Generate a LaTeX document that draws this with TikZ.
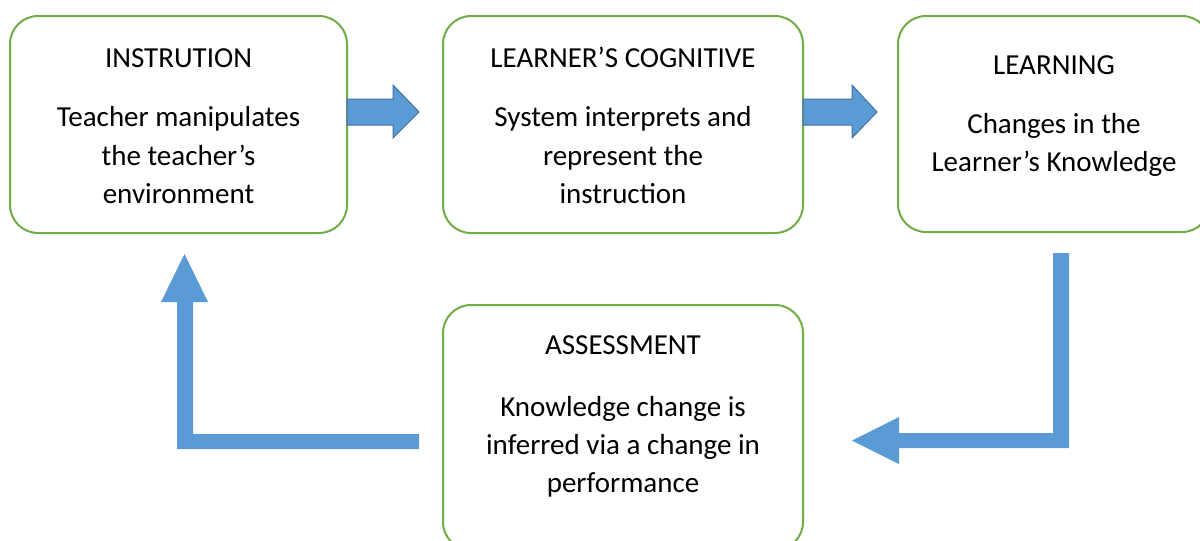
\documentclass[tikz,border=0pt]{standalone}
\usepackage{fontspec}
\setmainfont{Carlito}
\definecolor{boxgreen}{HTML}{70AD47}
\definecolor{arrowblue}{HTML}{5B9BD5}
\definecolor{arrowedge}{HTML}{41719C}
\begin{document}
\begin{tikzpicture}[x=1pt,y=-1pt,
  box/.style={draw=boxgreen,line width=2pt,rounded corners=28pt,fill=white},
  txt/.style={anchor=base,inner sep=0pt,font=\fontsize{29}{34}\selectfont},
  blockarrow/.style={fill=arrowblue,draw=arrowedge,line width=1pt,line join=miter},
  flatarrow/.style={fill=arrowblue,draw=none}]
\useasboundingbox (0,0) rectangle (1200,541);
\clip (0,0) rectangle (1200,541);
% boxes
\draw[box] (10,16) rectangle (347,233);
\draw[box] (443,16) rectangle (803,233);
\draw[box] (898,16) rectangle (1210,232);
\draw[box] (443,305) rectangle (803,550);
% box 1 text
\node[txt] (t1a) at (178.5,67) {INSTRUTION};
\node[txt] (t1b) at (178.5,126) {Teacher manipulates};
\node[txt] (t1c) at (178.5,165) {the teacher’s};
\node[txt] (t1d) at (178.5,203) {environment};
% box 2 text
\node[txt] (t2a) at (623,67) {LEARNER’S COGNITIVE};
\node[txt] (t2b) at (623,126) {System interprets and};
\node[txt] (t2c) at (623,165) {represent the};
\node[txt] (t2d) at (623,203) {instruction};
% box 3 text
\node[txt] (t3a) at (1054,74) {LEARNING};
\node[txt] (t3b) at (1054,133) {Changes in the};
\node[txt] (t3c) at (1054,171) {Learner’s Knowledge};
% box 4 text
\node[txt] (t4a) at (623,354) {ASSESSMENT};
\node[txt] (t4b) at (623,416) {Knowledge change is};
\node[txt] (t4c) at (623,454) {inferred via a change in};
\node[txt] (t4d) at (623,492) {performance};
% block arrows
\draw[blockarrow] (347,99) -- (393,99) -- (393,85) -- (419,112) -- (393,138) -- (393,125) -- (347,125) -- cycle;
\draw[blockarrow] (803,99) -- (852,99) -- (852,85) -- (877,112) -- (852,138) -- (852,125) -- (803,125) -- cycle;
% L arrows
\fill[flatarrow] (1053,253) -- (1069,253) -- (1069,448) -- (899,448) -- (899,464) -- (852,440.5) -- (899,417) -- (899,433) -- (1053,433) -- cycle;
\fill[flatarrow] (419,434) -- (419,449) -- (177,449) -- (177,302) -- (161,302) -- (184.5,254) -- (208,302) -- (193,302) -- (193,434) -- cycle;
\end{tikzpicture}
\end{document}
